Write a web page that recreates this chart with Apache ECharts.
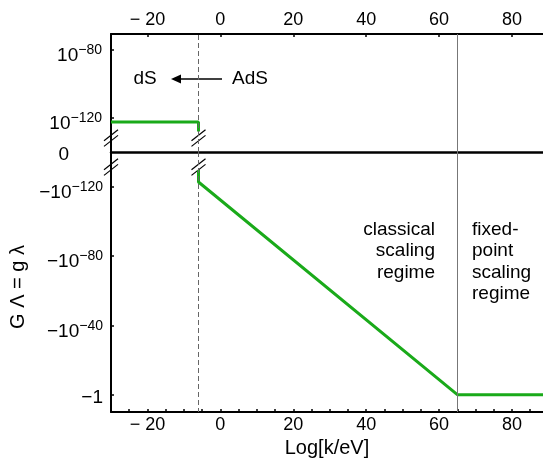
<!DOCTYPE html>
<html>
<head>
<meta charset="utf-8">
<script src="https://cdn.jsdelivr.net/npm/echarts@6/dist/echarts.min.js"></script>
<style>
  html, body { margin: 0; padding: 0; background: #fff; }
  #chart { width: 543px; height: 458px; }
</style>
</head>
<body>
<div id="chart"></div>
<script>
// G*Lambda vs Log[k/eV]; y is stored as the exponent e of |G Lambda| = 10^e
// top panel: positive values (dS), bottom panel: negative values (AdS)
var xTicks = [-20, 0, 20, 40, 60, 80];
var xMinorTicks = [-25, -20, -15, -10, -5, 0, 5, 10, 15, 20, 25, 30, 35, 40, 45, 50, 55, 60, 65, 70, 75, 80, 85];
var topLabels = [-140, -120, -80];      // -140 stands for the "0" line
var topTicks = [-120, -80];
var bottomTicks = [-120, -80, -40, 0];

var topX = [-30, -6, -6];
var topE = [-122.3, -122.3, -128];
var bottomX = [-6, -6, 65, 88.5];
var bottomE = [-129.6, -122.7, 0, 0];

var transitionX = -6;   // dashed: dS / AdS
var fixedPointX = 65;   // solid: classical / fixed-point
var breakX = [-30, -6];
var breakTopE = -131.8;
var breakBottomE = -131.3;

var FONT = '"Liberation Sans", Arial, sans-serif';
var GREEN = '#1aaa1a';
var MINUS = '\u2212';

function zip(a, b) {
    return a.map(function(v, i) { return [v, b[i]]; });
}

function xLabel(v) {
    return v < 0 ? MINUS + ' ' + (-v) : String(v);
}

// superscripted labels get shifted down by the label padding; plain ones
// pull half of it back with their own bottom padding
var supRich = {
    b: { fontSize: 19, fontFamily: FONT, color: '#000' },
    s: { fontSize: 14, fontFamily: FONT, color: '#000', padding: [0, 0, 11, 0] },
    p: { fontSize: 19, fontFamily: FONT, color: '#000', padding: [0, 0, 6, 0] },
    z: { fontSize: 19, fontFamily: FONT, color: '#000', padding: [0, 33, 6, 0] }
};

var chart = echarts.init(document.getElementById('chart'), null, { renderer: 'canvas' });

var xCommon = {
    type: 'value', min: -30, max: 88.5,
    splitLine: { show: false },
    axisLine: { show: true, onZero: false, lineStyle: { color: '#000', width: 2 } }
};

var option = {
    animation: false,
    backgroundColor: '#fff',
    grid: [
        { left: 111, right: 0, top: 34, height: 118, outerBoundsMode: 'none', containLabel: false },
        { left: 111, right: 0, top: 152, height: 260, outerBoundsMode: 'none', containLabel: false }
    ],
    xAxis: [
        Object.assign({}, xCommon, {
            gridIndex: 0, position: 'top',
            axisTick: { show: true, inside: true, length: 3, customValues: xTicks, lineStyle: { color: '#000', width: 1.5 } },
            axisLabel: { customValues: xTicks, formatter: xLabel, fontSize: 18, fontFamily: FONT, color: '#000', margin: 5 }
        }),
        Object.assign({}, xCommon, {
            gridIndex: 1, position: 'bottom',
            name: 'Log[k/eV]', nameLocation: 'middle', nameGap: 26,
            nameTextStyle: { fontSize: 20, fontFamily: FONT, color: '#000' },
            axisTick: { show: true, inside: true, length: 3, customValues: xMinorTicks, lineStyle: { color: '#000', width: 1.5 } },
            axisLabel: { customValues: xTicks, formatter: xLabel, fontSize: 18, fontFamily: FONT, color: '#000', margin: 4 }
        }),
        Object.assign({}, xCommon, {
            gridIndex: 1, position: 'top',
            axisLine: { show: true, onZero: false, lineStyle: { color: '#000', width: 2.5 } },
            axisTick: { show: false },
            axisLabel: { show: false }
        })
    ],
    yAxis: [
        {
            type: 'value', gridIndex: 0, min: -140, max: -70.6,
            splitLine: { show: false },
            axisLine: { show: true, onZero: false, lineStyle: { color: '#000', width: 2 } },
            axisTick: { show: true, inside: true, length: 3, customValues: topTicks, lineStyle: { color: '#000', width: 1.5 } },
            axisLabel: {
                customValues: topLabels, margin: 9, rich: supRich, padding: [12, 0, 0, 0],
                formatter: function(v) {
                    if (v === -140) return '{z|0}';
                    return '{b|10}{s|' + MINUS + (-v) + '}';
                }
            }
        },
        {
            type: 'value', gridIndex: 1, min: -140, max: 10, inverse: true,
            name: 'G \u039B = g \u03BB', nameLocation: 'middle', nameGap: 79, nameRotate: 90,
            nameTextStyle: { fontSize: 20, fontFamily: FONT, color: '#000', padding: [0, 10, 0, 0] },
            splitLine: { show: false },
            axisLine: { show: true, onZero: false, lineStyle: { color: '#000', width: 2 } },
            axisTick: { show: true, inside: true, length: 3, customValues: bottomTicks, lineStyle: { color: '#000', width: 1.5 } },
            axisLabel: {
                customValues: bottomTicks, margin: 8, rich: supRich, padding: [12, 0, 0, 0],
                formatter: function(v) {
                    if (v === 0) return '{p|' + MINUS + '1}';
                    return '{b|' + MINUS + '10}{s|' + MINUS + (-v) + '}';
                }
            }
        }
    ],
    series: [
        {
            type: 'line', xAxisIndex: 0, yAxisIndex: 0,
            data: zip(topX, topE), symbol: 'none',
            lineStyle: { color: GREEN, width: 3 },
            markLine: {
                silent: true, symbol: 'none', label: { show: false },
                data: [
                    { xAxis: transitionX, lineStyle: { color: '#666', width: 1, type: [5, 3] } },
                    { xAxis: fixedPointX, lineStyle: { color: '#777', width: 1, type: 'solid' } }
                ]
            }
        },
        {
            type: 'line', xAxisIndex: 1, yAxisIndex: 1,
            data: zip(bottomX, bottomE), symbol: 'none',
            lineStyle: { color: GREEN, width: 3 },
            markLine: {
                silent: true, symbol: 'none', label: { show: false },
                data: [
                    { xAxis: transitionX, lineStyle: { color: '#666', width: 1, type: [5, 3] } },
                    { xAxis: fixedPointX, lineStyle: { color: '#777', width: 1, type: 'solid' } }
                ]
            }
        }
    ]
};

chart.setOption(option);

// annotations and axis-break marks
var g = [];
var txt = { fontSize: 19, fontFamily: FONT, fill: '#000' };
g.push({ type: 'text', x: 145, y: 79, style: Object.assign({ text: 'dS', align: 'center', verticalAlign: 'middle' }, txt) });
g.push({ type: 'text', x: 232, y: 79, style: Object.assign({ text: 'AdS', align: 'left', verticalAlign: 'middle' }, txt) });
g.push({ type: 'line', shape: { x1: 178, y1: 79, x2: 222, y2: 79 }, style: { stroke: '#000', lineWidth: 1.5 } });
g.push({ type: 'polygon', shape: { points: [[171, 79], [181, 74.5], [181, 83.5]] }, style: { fill: '#000' } });
g.push({ type: 'text', x: 435, y: 219, style: Object.assign({ text: 'classical\nscaling\nregime', align: 'right', verticalAlign: 'top', lineHeight: 21.5 }, txt) });
g.push({ type: 'text', x: 472, y: 219, style: Object.assign({ text: 'fixed-\npoint\nscaling\nregime', align: 'left', verticalAlign: 'top', lineHeight: 21.5 }, txt) });

function breakMark(p) {
    [-2.8, 2.8].forEach(function(off) {
        g.push({
            type: 'line',
            shape: { x1: p[0] - 7, y1: p[1] + 5.5 + off, x2: p[0] + 7, y2: p[1] - 5.5 + off },
            style: { stroke: '#000', lineWidth: 1.2 }
        });
    });
}
breakX.forEach(function(x) {
    breakMark(chart.convertToPixel({ gridIndex: 0 }, [x, breakTopE]));
    breakMark(chart.convertToPixel({ gridIndex: 1 }, [x, breakBottomE]));
});

chart.setOption({ graphic: g });
</script>
</body>
</html>
